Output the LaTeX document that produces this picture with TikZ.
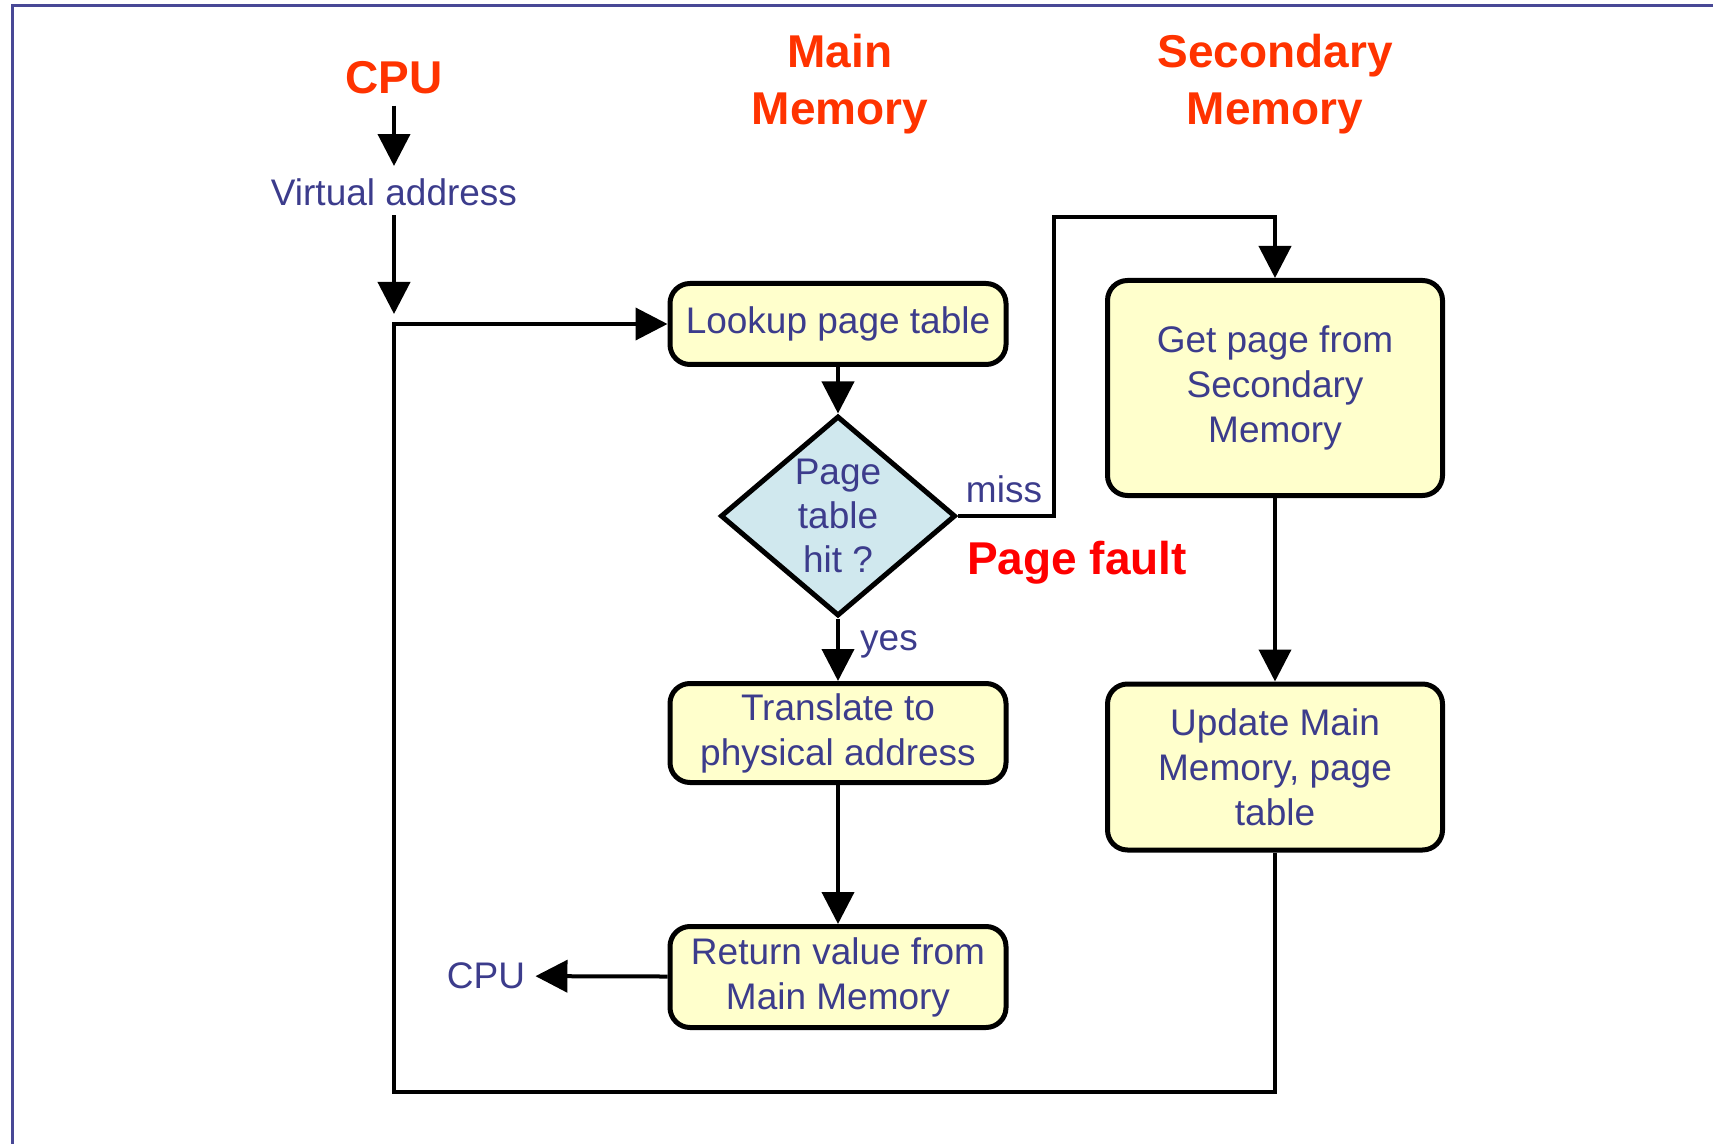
\documentclass[tikz,border=0pt]{standalone}
\usepackage{fontspec}
\setmainfont{Liberation Sans}
\usetikzlibrary{arrows.meta,shapes.geometric}
\definecolor{txt}{RGB}{60,60,140}
\definecolor{ttl}{RGB}{255,51,0}
\definecolor{pfred}{RGB}{255,0,0}
\definecolor{boxfill}{RGB}{255,255,204}
\definecolor{diafill}{RGB}{208,232,238}
\definecolor{framec}{RGB}{72,72,150}
\begin{document}
\begin{tikzpicture}[x=0.5pt,y=-0.5pt,
  arr/.style={line width=2pt, -{Triangle[length=16pt,width=16pt]}},
  procbox/.style={draw, line width=2.5pt, fill=boxfill, rounded corners=10pt, align=center,
    text=txt, font=\fontsize{18.5}{22.5}\selectfont, inner sep=0pt, minimum width=168pt},
  lbl/.style={text=txt, font=\fontsize{18.5}{22.5}\selectfont, inner sep=0pt},
  ttlstyle/.style={text=ttl, font=\bfseries\fontsize{23}{28.5}\selectfont, align=center, inner sep=0pt}]
\useasboundingbox (0,0) rectangle (1713,1144);
\draw[framec, line width=1.5pt] (12,1144) -- (12,6) -- (1713,6);

\node[ttlstyle] (cpu) at (394,78) {CPU};
\node[ttlstyle] (mm) at (840,84.5) {Main\\Memory};
\node[ttlstyle] (sm) at (1275,84.5) {Secondary\\Memory};
\node[lbl] (va) at (394,192) {Virtual address};

\node[procbox, minimum height=40.5pt] (look) at (838,324) {Lookup page table};
\node[draw, diamond, line width=2.5pt, fill=diafill, aspect=1.18, minimum width=117.5pt,
  minimum height=100pt, inner sep=0pt, align=center, text=txt,
  font=\fontsize{18.5}{22}\selectfont] (dia) at (838,516) {Page\\table\\hit ?};
\node[procbox, minimum height=49.5pt] (tr) at (838,733) {Translate to\\physical address};
\node[procbox, minimum height=50.5pt] (ret) at (838,977) {Return value from\\Main Memory};
\node[procbox, minimum width=167.5pt, minimum height=107.5pt] (get) at (1275,388) {Get page from\\Secondary\\Memory};
\node[procbox, minimum width=167.5pt, minimum height=83pt] (upd) at (1275,767) {Update Main\\Memory, page\\table};

\node[lbl] (cpu2) at (486,976) {CPU};
\node[lbl] (miss) at (1004,489) {miss};
\node[text=pfred, font=\bfseries\fontsize{23}{28}\selectfont, inner sep=0pt] (pf) at (1077,562.5) {Page fault};
\node[lbl] (yes) at (889,644) {yes};

\coordinate (j) at (394,324);
\coordinate (bot) at (394,1092);
\coordinate (m1) at (1054,217);

\draw[arr, shorten <=5.5pt, shorten >=6pt] (cpu) -- (va);
\draw[arr, shorten <=4.75pt, shorten >=5pt] (va) -- (j);
\draw[arr] (upd.south) |- (bot) -- (j) -- (look.west);
\draw[arr] (look) -- (dia);
\draw[arr] (dia) -- (tr);
\draw[arr] (tr) -- (ret);
\draw[arr, shorten >=5pt] (ret) -- (cpu2);
\draw[arr] (dia.east) -| (m1) -| (get.north);
\draw[arr] (get) -- (upd);
\end{tikzpicture}
\end{document}
